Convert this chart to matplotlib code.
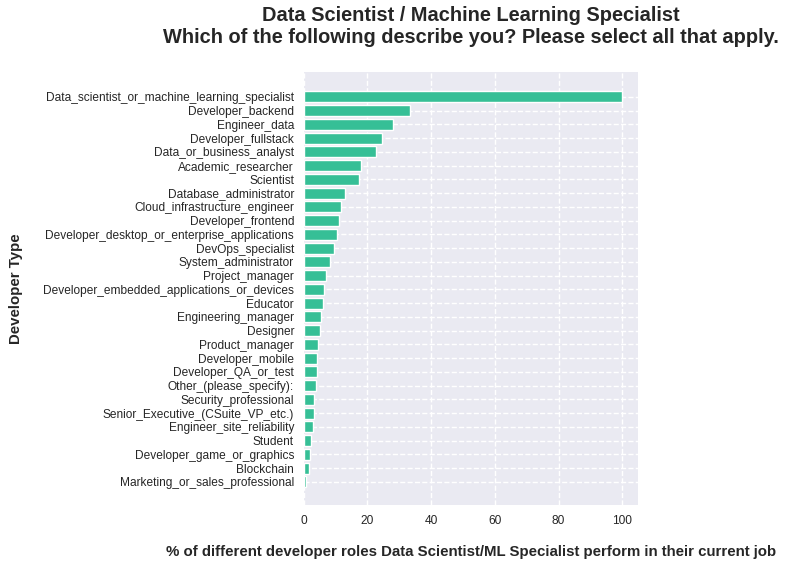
import matplotlib
matplotlib.use("Agg")
import matplotlib.pyplot as plt

roles = [
    "Data_scientist_or_machine_learning_specialist",
    "Developer_backend",
    "Engineer_data",
    "Developer_fullstack",
    "Data_or_business_analyst",
    "Academic_researcher",
    "Scientist",
    "Database_administrator",
    "Cloud_infrastructure_engineer",
    "Developer_frontend",
    "Developer_desktop_or_enterprise_applications",
    "DevOps_specialist",
    "System_administrator",
    "Project_manager",
    "Developer_embedded_applications_or_devices",
    "Educator",
    "Engineering_manager",
    "Designer",
    "Product_manager",
    "Developer_mobile",
    "Developer_QA_or_test",
    "Other_(please_specify):",
    "Security_professional",
    "Senior_Executive_(CSuite_VP_etc.)",
    "Engineer_site_reliability",
    "Student",
    "Developer_game_or_graphics",
    "Blockchain",
    "Marketing_or_sales_professional",
]
pct = [100, 33.5, 28.1, 24.7, 22.8, 18.1, 17.2, 12.8, 11.8, 11.2, 10.3, 9.6,
       8.1, 7.1, 6.2, 5.9, 5.5, 5.2, 4.6, 4.3, 4.3, 3.7, 3.3, 3.3, 3.0, 2.4,
       2.1, 1.5, 0.8]

plt.rcParams['font.family'] = ['Liberation Sans', 'DejaVu Sans']

fig = plt.figure(figsize=(7.87, 5.67), dpi=100)
ax = fig.add_axes([0.386, 0.109, 0.425, 0.764])
ax.set_facecolor('#EAEAF2')
for s in ax.spines.values():
    s.set_visible(False)
ax.set_axisbelow(True)
ax.grid(True, color='white', linestyle='--', linewidth=1)

pos = list(range(len(roles)))
ax.barh(pos, pct, height=0.8, color='#36BF96', edgecolor='white', linewidth=1)
ax.set_yticks(pos)
ax.set_yticklabels(roles)
ax.set_xlim(0, 105)
ax.set_ylim(len(roles) - 1 + 1.7, -1.8)
ax.tick_params(axis='both', length=0, labelsize=8.6, colors='#262626', pad=7)

ax.set_xlabel('% of different developer roles Data Scientist/ML Specialist perform in their current job',
              fontsize=10.8, fontweight='bold', color='#262626')
ax.xaxis.set_label_coords(0.5, -0.093)
ax.set_ylabel('Developer Type', fontsize=10.8, fontweight='bold', color='#262626')
ax.yaxis.set_label_coords(-0.84, 0.5)
ax.set_title('Data Scientist / Machine Learning Specialist\nWhich of the following describe you? Please select all that apply.',
             fontsize=14.4, fontweight='bold', color='#262626', pad=21)

fig.savefig('out.png', dpi=100)
